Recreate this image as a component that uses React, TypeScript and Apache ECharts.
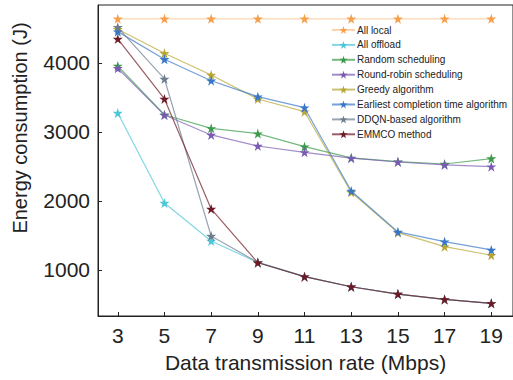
import React, { useEffect, useRef } from "react";
import * as echarts from "echarts";

const rates = [3, 5, 7, 9, 11, 13, 15, 17, 19];
const seriesNames = [
  "All local",
  "All offload",
  "Random scheduling",
  "Round-robin scheduling",
  "Greedy algorithm",
  "Earliest completion time algorithm",
  "DDQN-based algorithm",
  "EMMCO method",
];
const allLocal = [4640, 4640, 4640, 4640, 4640, 4640, 4640, 4640, 4640];
const allOffload = [3275, 1970, 1420, 1110, 903, 757, 651, 573, 516];
const randomSched = [3957, 3250, 3053, 2976, 2787, 2625, 2570, 2536, 2615];
const roundRobin = [3923, 3245, 2957, 2797, 2705, 2620, 2565, 2522, 2497];
const greedy = [4488, 4140, 3826, 3478, 3294, 2126, 1541, 1338, 1213];
const earliest = [4454, 4053, 3743, 3512, 3352, 2145, 1551, 1410, 1290];
const ddqn = [4517, 3768, 1493, 1110, 903, 757, 651, 573, 516];
const emmco = [4348, 3478, 1884, 1105, 903, 757, 651, 573, 516];
const xTicks = [3, 5, 7, 9, 11, 13, 15, 17, 19];
const yTicks = [1000, 2000, 3000, 4000];

const colors = ["#f7a04c", "#4cc6d8", "#3b9b4b", "#7a5bb3", "#b7a634", "#3877c8", "#6c7d8f", "#6d1a24"];
const allData = [allLocal, allOffload, randomSched, roundRobin, greedy, earliest, ddqn, emmco];

export default function App() {
  const ref = useRef<HTMLDivElement>(null);
  useEffect(() => {
    const chart = echarts.init(ref.current!, null, { renderer: "svg" });
    const font = "'Liberation Sans', Arial, sans-serif";
    chart.setOption({
      animation: false,
      grid: {
        left: 98,
        right: -5,
        top: 5,
        bottom: 64,
        show: true,
        borderColor: "#222",
        borderWidth: 1,
        backgroundColor: "transparent",
      },
      legend: {
        orient: "vertical",
        left: 326,
        top: 20,
        itemWidth: 23,
        itemHeight: 10,
        itemGap: 4.9,
        textStyle: { fontFamily: font, fontSize: 10, color: "#222", padding: [0, 0, 0, -3] },
        data: seriesNames,
      },
      xAxis: {
        type: "value",
        min: 2.153,
        max: 19.93,
        name: "Data transmission rate (Mbps)",
        nameLocation: "middle",
        nameGap: 36,
        nameTextStyle: { fontFamily: font, fontSize: 21, color: "#222" },
        axisLine: { show: true, lineStyle: { color: "#222", width: 1 } },
        axisTick: { show: true, inside: true, length: 4, customValues: xTicks, lineStyle: { color: "#222" } },
        axisLabel: { customValues: xTicks, fontFamily: font, fontSize: 21, color: "#222", margin: 9 },
        splitLine: { show: false },
      },
      yAxis: {
        type: "value",
        min: 333,
        max: 4840,
        axisLine: { show: true, lineStyle: { color: "#222", width: 1 } },
        axisTick: { show: true, inside: true, length: 4, customValues: yTicks, lineStyle: { color: "#222" } },
        axisLabel: {
          customValues: yTicks,
          formatter: (v: number) => String(v),
          fontFamily: font,
          fontSize: 21,
          color: "#222",
          margin: 8,
        },
        splitLine: { show: false },
      },
      graphic: [
        {
          type: "text",
          x: 20,
          y: 128,
          rotation: Math.PI / 2,
          style: {
            text: "Energy consumption (J)",
            fontFamily: font,
            fontSize: 20,
            fill: "#222",
            align: "center",
            verticalAlign: "middle",
          },
        },
      ],
      series: seriesNames.map((name, i) => ({
        name,
        type: "line",
        data: rates.map((r, j) => [r, allData[i][j]]),
        symbol: "path://M50,0 L61.8,35.5 L99,35.5 L68.8,57.5 L80.3,93 L50,71 L19.7,93 L31.2,57.5 L1,35.5 L38.2,35.5 Z",
        symbolSize: 10,
        color: colors[i],
        itemStyle: { color: colors[i] },
        lineStyle: { color: colors[i], width: 1.2, opacity: i === 0 ? 0.45 : 0.7 },
        z: 2 + i,
      })),
    });
    return () => chart.dispose();
  }, []);
  return <div ref={ref} style={{ width: 513, height: 380, position: "absolute", left: 0, top: 0 }} />;
}
